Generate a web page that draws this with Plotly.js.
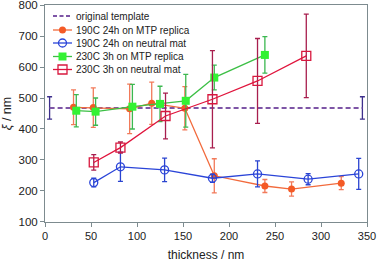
<!DOCTYPE html>
<html>
<head>
<meta charset="utf-8">
<script src="https://cdn.plot.ly/plotly-3.0.1.min.js"></script>
<style>html,body{margin:0;padding:0;background:#fff;}#chart{width:378px;height:262px;}</style>
</head>
<body>
<div id="chart"></div>
<script>
// ---- data ----
var seriesNames = ["original template", "190C 24h on MTP replica", "190C 24h on neutral mat", "230C 3h on MTP replica", "230C 3h on neutral mat"];

var templateX = [5, 345];
var templateY = [468, 468];
var templateErr = [36, 36];

var mtp190X = [31, 52.5, 92, 116, 152, 184, 239, 268, 322];
var mtp190Y = [470, 469, 465, 483, 467, 249, 216, 206, 225];
var mtp190Err = [56, 64, 80, 68, 70, 55, 21, 23, 21];

var neu190X = [53, 82, 130, 182, 231, 286, 341];
var neu190Y = [227, 278, 268, 241, 255, 238, 255];
var neu190Err = [14, 47, 38, 13, 42, 18, 50];

var mtp230X = [34, 55, 95, 125, 153, 184, 239];
var mtp230Y = [459, 456, 472, 481, 491, 566, 639];
var mtp230Err = [52, 44, 72, 57, 85, 40, 59];

var neu230X = [53, 82, 131, 182, 231, 284];
var neu230Y = [292, 340, 442, 496, 555, 636];
var neu230Err = [25, 18, 74, 157, 137, 135];

var xTicks = [0, 50, 100, 150, 200, 250, 300, 350];
var yTicks = [100, 200, 300, 400, 500, 600, 700, 800];

// ---- styles ----
var styles = [
  {line: '#7e55a6', dash: '5px,3px', lw: 2, marker: null, err: '#3d2f8c'},
  {line: '#f26a3c', dash: 'solid', lw: 1.3, marker: {symbol: 'circle', size: 7, color: '#f45a26', line: {width: 0}}, err: '#f27a5a'},
  {line: '#2a44d8', dash: 'solid', lw: 1.3, marker: {symbol: 'circle-open', size: 8, color: '#2a44d8', line: {width: 1.3}}, err: '#2a44d0'},
  {line: '#3cbf45', dash: 'solid', lw: 1.3, marker: {symbol: 'square', size: 8, color: '#33f233', line: {width: 0}}, err: '#3cb850'},
  {line: '#e0143c', dash: 'solid', lw: 1.3, marker: {symbol: 'square-open', size: 9, color: '#d8183e', line: {width: 1.3}}, err: '#a81e4e'}
];

var dataSets = [
  [templateX, templateY, templateErr],
  [mtp190X, mtp190Y, mtp190Err],
  [neu190X, neu190Y, neu190Err],
  [mtp230X, mtp230Y, mtp230Err],
  [neu230X, neu230Y, neu230Err]
];

var traces = dataSets.map(function (d, i) {
  var s = styles[i];
  var t = {
    type: 'scatter',
    x: d[0], y: d[1],
    name: seriesNames[i],
    mode: s.marker ? 'lines+markers' : 'lines',
    line: {color: s.line, width: s.lw, dash: s.dash},
    error_y: {type: 'data', array: d[2], visible: true, color: s.err, thickness: 1.3, width: 2.5},
    showlegend: false
  };
  if (s.marker) t.marker = s.marker;
  return t;
});

// ---- custom compact legend (keys in paper coordinates) ----
var L = 45, T = 5, PW = 322, PH = 217;
function px(x) { return (x - L) / PW; }
function py(y) { return 1 - (y - T) / PH; }
var rowY = [16, 30, 43, 56.5, 69.5];
var shapes = [], annotations = [];
seriesNames.forEach(function (nm, i) {
  var s = styles[i];
  var yy = py(rowY[i]);
  shapes.push({type: 'line', xref: 'paper', yref: 'paper', x0: px(53), x1: px(72), y0: yy, y1: yy,
    line: {color: s.line, width: s.lw, dash: s.dash === 'solid' ? 'solid' : '4px,2.5px'}});
  if (s.marker) {
    var half = s.marker.size / 2;
    var isSq = s.marker.symbol.indexOf('square') === 0;
    var open = s.marker.symbol.indexOf('open') > 0;
    shapes.push({type: isSq ? 'rect' : 'circle', xref: 'paper', yref: 'paper',
      xsizemode: 'pixel', ysizemode: 'pixel', xanchor: px(62.5), yanchor: yy,
      x0: -half, x1: half, y0: -half, y1: half,
      fillcolor: open ? 'rgba(255,255,255,0)' : s.marker.color,
      line: {color: s.marker.color, width: open ? 1.3 : 0}});
  }
  annotations.push({xref: 'paper', yref: 'paper', x: px(73.5), y: yy, xanchor: 'left', yanchor: 'middle',
    text: nm, showarrow: false, font: {family: 'Liberation Sans, Arial, sans-serif', size: 10, color: '#222'}});
});

var axisColor = '#7d8b8f';
var layout = {
  width: 378, height: 262,
  margin: {l: 45, r: 11, t: 5, b: 40},
  paper_bgcolor: '#fff', plot_bgcolor: '#fff',
  font: {family: 'Liberation Sans, Arial, sans-serif', size: 11, color: '#222'},
  showlegend: false,
  xaxis: {
    range: [0, 350], tickvals: xTicks, ticktext: xTicks.map(String),
    showgrid: false, zeroline: false, showline: true, mirror: true, linecolor: axisColor, linewidth: 1,
    ticks: 'outside', ticklen: 4, tickcolor: axisColor,
    tickfont: {size: 11}, ticklabeloverflow: 'allow',
    title: {text: 'thickness / nm', font: {size: 12}, standoff: 10}
  },
  yaxis: {
    range: [99.8, 800.2], tickvals: yTicks, ticktext: yTicks.map(String),
    showgrid: false, zeroline: false, showline: true, mirror: true, linecolor: axisColor, linewidth: 1,
    ticks: 'outside', ticklen: 4, tickcolor: axisColor,
    tickfont: {size: 11.5}, ticklabeloverflow: 'allow',
    title: {text: '<i>ξ</i> / nm', font: {size: 12.5}, standoff: 6}
  },
  shapes: shapes,
  annotations: annotations
};

Plotly.newPlot('chart', traces, layout, {displayModeBar: false, staticPlot: true});
</script>
</body>
</html>
